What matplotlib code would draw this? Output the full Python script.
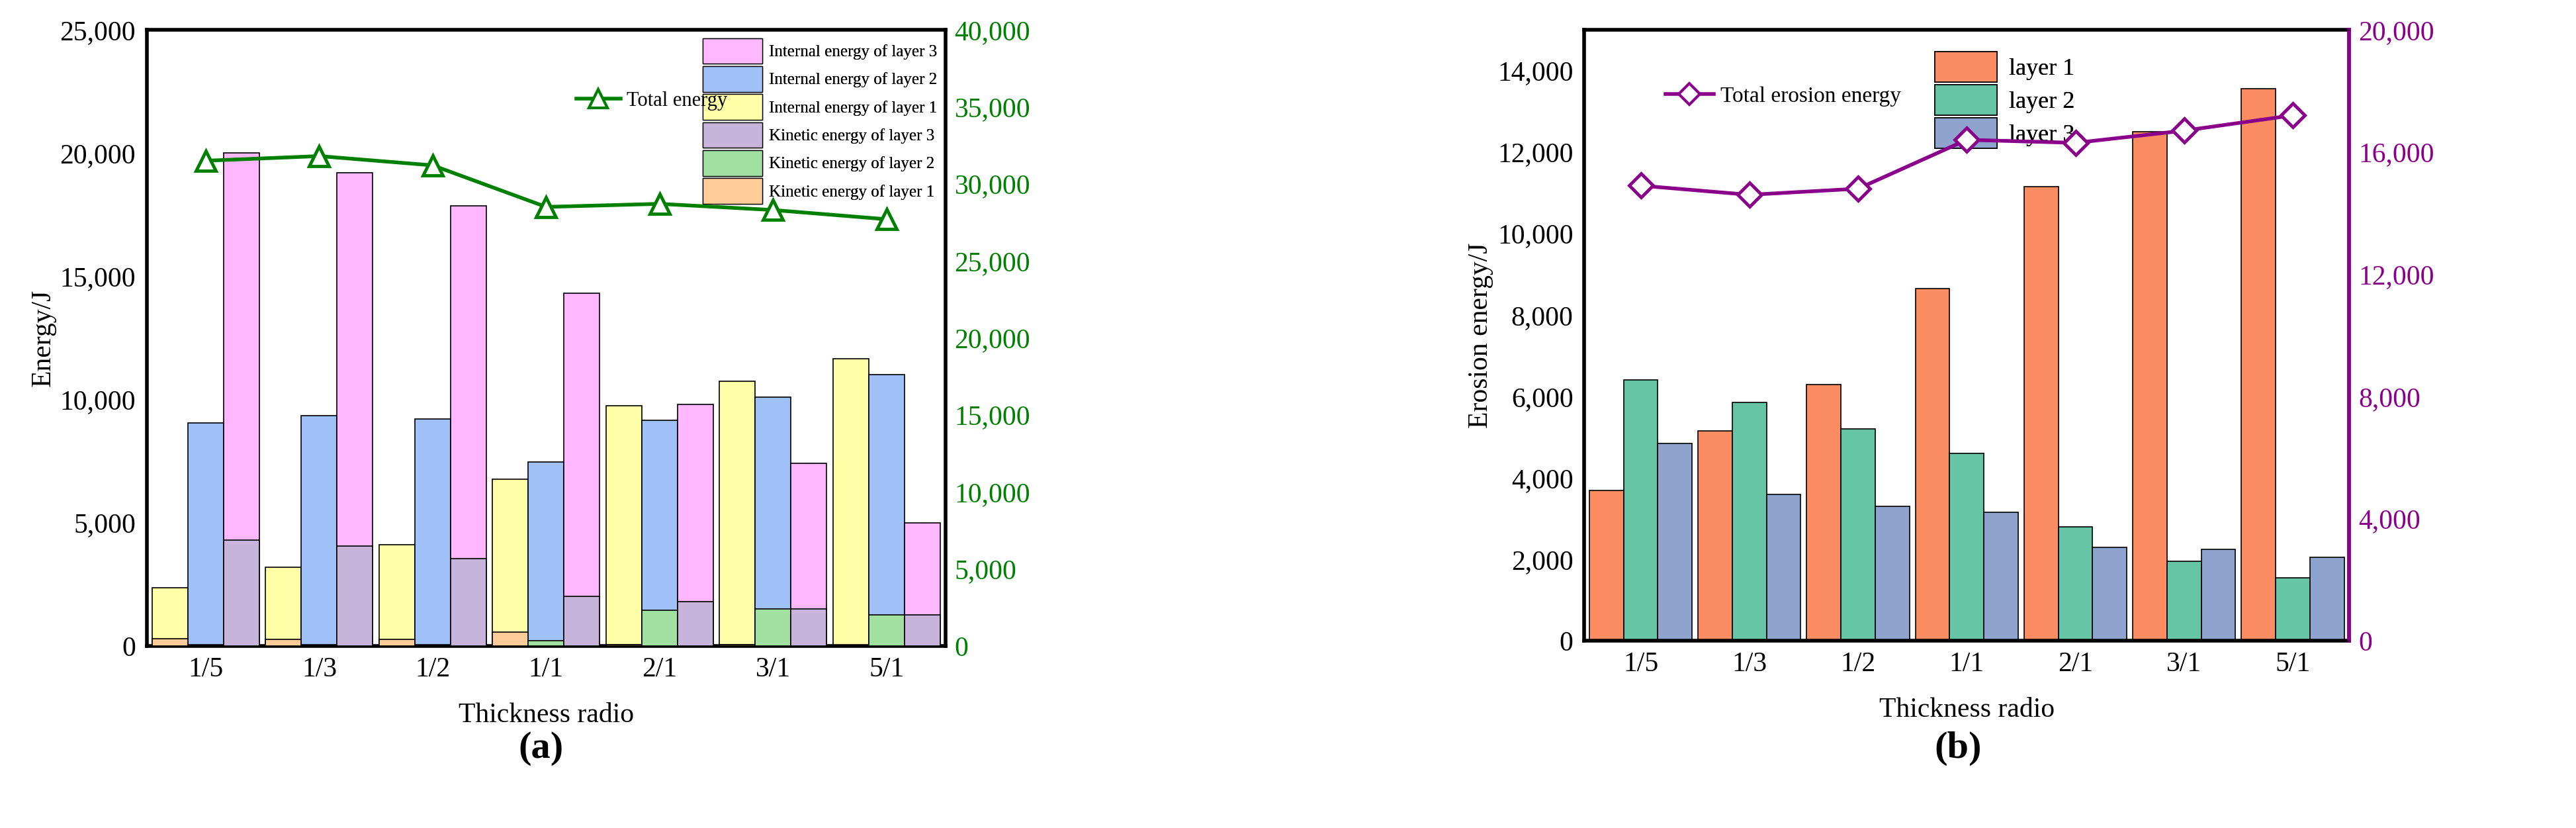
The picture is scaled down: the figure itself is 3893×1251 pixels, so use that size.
import matplotlib
matplotlib.use("Agg")
import matplotlib.pyplot as plt
import numpy as np
from matplotlib.patches import Patch
from matplotlib.lines import Line2D
from matplotlib.ticker import FuncFormatter

plt.rcParams["font.family"] = "Liberation Serif"

categories = ["1/5", "1/3", "1/2", "1/1", "2/1", "3/1", "5/1"]
# panel (a)
int_l1 = [2350, 3200, 4100, 6750, 9750, 10750, 11650]
kin_l1 = [300, 250, 250, 550, 50, 50, 30]
int_l2 = [9050, 9350, 9200, 7450, 9150, 10100, 11000]
kin_l2 = [30, 30, 30, 200, 1450, 1500, 1250]
int_l3 = [20000, 19200, 17850, 14300, 9800, 7400, 5000]
kin_l3 = [4300, 4050, 3550, 2000, 1800, 1500, 1250]
total_a = [31500, 31800, 31200, 28500, 28700, 28300, 27700]
# panel (b)
ero_l1 = [3700, 5150, 6300, 8650, 11150, 12500, 13550]
ero_l2 = [6400, 5850, 5200, 4600, 2800, 1950, 1550]
ero_l3 = [4850, 3600, 3300, 3150, 2300, 2250, 2050]
total_b = [14900, 14600, 14800, 16400, 16300, 16700, 17200]

fmt = FuncFormatter(lambda v, p: f"{int(v):,}")
x = np.arange(len(categories))
w = 0.315
TS = 30

fig = plt.figure(figsize=(38.93, 12.51), dpi=100)

# ---------- panel a ----------
ax = fig.add_axes([0.057, 0.22, 0.31, 0.744])
c_int = ["#FFFFA8", "#A0C0F8", "#FFB8FF"]
c_kin = ["#FFCC99", "#A0E0A0", "#C6B4DA"]
for i, (iv, kv) in enumerate([(int_l1, kin_l1), (int_l2, kin_l2), (int_l3, kin_l3)]):
    xi = x + (i - 1) * w
    ax.bar(xi, iv, w, color=c_int[i], edgecolor="black", linewidth=1.2, zorder=2)
    ax.bar(xi, kv, w, color=c_kin[i], edgecolor="black", linewidth=1.2, zorder=3)
ax.set_xlim(-0.52, 6.52)
ax.set_ylim(0, 25000)
ax.set_yticks(range(0, 25001, 5000))
ax.yaxis.set_major_formatter(fmt)
ax.set_xticks(x)
ax.set_xticklabels(categories)
ax.tick_params(labelsize=TS, length=0, pad=12)
ax.set_ylabel("Energy/J", fontsize=TS)
ax.set_xlabel("Thickness radio", fontsize=TS, labelpad=22)
for s in ax.spines.values():
    s.set_linewidth(4)
ax2 = ax.twinx()
ax2.plot(x, total_a, color="#008000", lw=4, marker="^", ms=22, mfc="white",
         mec="#008000", mew=3.5, zorder=5)
ax2.set_ylim(0, 40000)
ax2.set_yticks(range(0, 40001, 5000))
ax2.yaxis.set_major_formatter(fmt)
ax2.tick_params(labelsize=TS, length=0, colors="#008000", pad=10)
leg = ax.legend(handles=[Patch(fc=c_int[2], ec="black"), Patch(fc=c_int[1], ec="black"),
                         Patch(fc=c_int[0], ec="black"), Patch(fc=c_kin[2], ec="black"),
                         Patch(fc=c_kin[1], ec="black"), Patch(fc=c_kin[0], ec="black")],
                labels=["Internal energy of layer 3", "Internal energy of layer 2",
                        "Internal energy of layer 1", "Kinetic energy of layer 3",
                        "Kinetic energy of layer 2", "Kinetic energy of layer 1"],
                loc="upper right", bbox_to_anchor=(1.0, 1.0), fontsize=18, frameon=False,
                handlelength=3.6, handleheight=2.0, handletextpad=0.4,
                labelspacing=0.15, borderaxespad=0.1)
ax.add_artist(leg)
ax2.legend(handles=[Line2D([], [], color="#008000", lw=4, marker="^", ms=20, mfc="white",
                           mec="#008000", mew=3)], labels=["Total energy"],
           loc="upper right", bbox_to_anchor=(0.75, 0.93), fontsize=22, frameon=False,
           handlelength=2.2, handletextpad=0.3)
fig.text(0.21, 0.085, "(a)", fontsize=42, ha="center", fontweight="bold")

# ---------- panel b ----------
bx = fig.add_axes([0.615, 0.226, 0.297, 0.738])
c_b = ["#FC8D62", "#66C5A5", "#8EA3CD"]
for i, v in enumerate([ero_l1, ero_l2, ero_l3]):
    bx.bar(x + (i - 1) * w, v, w, color=c_b[i], edgecolor="black", linewidth=1.2, zorder=2,
           label=f"layer {i+1}")
bx.set_xlim(-0.52, 6.52)
bx.set_ylim(0, 15000)
bx.set_yticks(range(0, 14001, 2000))
bx.yaxis.set_major_formatter(fmt)
bx.set_xticks(x)
bx.set_xticklabels(categories)
bx.tick_params(labelsize=TS, length=0, pad=12)
bx.set_ylabel("Erosion energy/J", fontsize=TS)
bx.set_xlabel("Thickness radio", fontsize=TS, labelpad=22)
for s in bx.spines.values():
    s.set_linewidth(4)
bx.spines["right"].set_color("#8B008B")
lg = bx.legend(loc="upper left", bbox_to_anchor=(0.43, 1.0), fontsize=26, frameon=False,
               handlelength=2.6, handleheight=1.6, labelspacing=0.1, handletextpad=0.5)
bx.add_artist(lg)
bx2 = bx.twinx()
bx2.plot(x, total_b, color="#8B008B", lw=4, marker="D", ms=18, mfc="white",
         mec="#8B008B", mew=3.5, zorder=5)
bx2.set_ylim(0, 20000)
bx2.set_yticks(range(0, 20001, 4000))
bx2.yaxis.set_major_formatter(fmt)
bx2.tick_params(labelsize=TS, length=0, colors="#8B008B", pad=10)
bx2.spines["right"].set_color("#8B008B")
bx2.spines["right"].set_linewidth(4)
bx2.legend(handles=[Line2D([], [], color="#8B008B", lw=4, marker="D", ms=16, mfc="white",
                           mec="#8B008B", mew=3)], labels=["Total erosion energy"],
           loc="upper right", bbox_to_anchor=(0.44, 0.94), fontsize=24, frameon=False,
           handlelength=2.2, handletextpad=0.3)
fig.text(0.76, 0.085, "(b)", fontsize=42, ha="center", fontweight="bold")

fig.savefig("out.png", dpi=100)
